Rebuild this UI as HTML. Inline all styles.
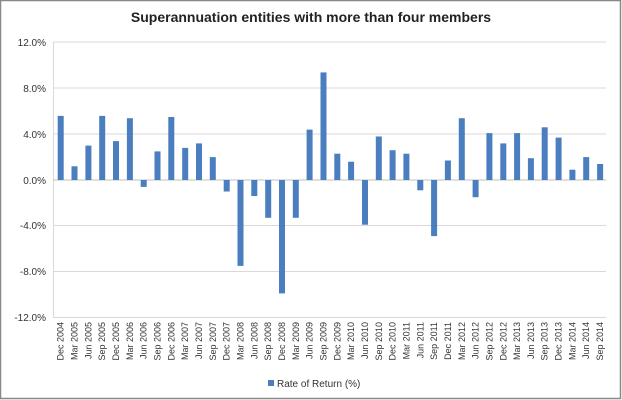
<!DOCTYPE html>
<html><head><meta charset="utf-8"><style>
html,body{margin:0;padding:0;background:#fff;}
svg{display:block;font-family:"Liberation Sans","DejaVu Sans",sans-serif;}
</style></head><body>
<svg width="622" height="400" viewBox="0 0 622 400" xmlns="http://www.w3.org/2000/svg">
<rect x="0.5" y="0.5" width="620" height="398" fill="#fff" stroke="#888" stroke-width="1.5"/>
<text x="311" y="22" text-anchor="middle" font-size="14" font-weight="bold" fill="#222">Superannuation entities with more than four members</text>
<g stroke="#d9d9d9" stroke-width="1">
<line x1="53" y1="42" x2="606" y2="42"/>
<line x1="53" y1="88" x2="606" y2="88"/>
<line x1="53" y1="134" x2="606" y2="134"/>
<line x1="53" y1="225.5" x2="606" y2="225.5"/>
<line x1="53" y1="271.5" x2="606" y2="271.5"/>
<line x1="53" y1="317.5" x2="606" y2="317.5"/>
<line x1="53.5" y1="42" x2="53.5" y2="318"/>
</g>
<line x1="53" y1="180" x2="606" y2="180" stroke="#bfbfbf"/>
<g font-size="10" fill="#333" text-anchor="end">
<text x="46" y="46">12.0%</text>
<text x="46" y="92">8.0%</text>
<text x="46" y="138">4.0%</text>
<text x="46" y="184">0.0%</text>
<text x="46" y="229">-4.0%</text>
<text x="46" y="275">-8.0%</text>
<text x="46" y="321">-12.0%</text>
</g>
<g fill="#4a7ebf">
<rect x="57.7" y="115.9" width="6" height="64.1"/>
<rect x="71.5" y="166.3" width="6" height="13.7"/>
<rect x="85.4" y="145.6" width="6" height="34.4"/>
<rect x="99.2" y="115.9" width="6" height="64.1"/>
<rect x="113.0" y="141.1" width="6" height="38.9"/>
<rect x="126.9" y="118.2" width="6" height="61.8"/>
<rect x="140.7" y="180" width="6" height="6.9"/>
<rect x="154.5" y="151.4" width="6" height="28.6"/>
<rect x="168.3" y="117" width="6" height="63"/>
<rect x="182.2" y="147.9" width="6" height="32.1"/>
<rect x="196.0" y="143.4" width="6" height="36.6"/>
<rect x="209.8" y="157.1" width="6" height="22.9"/>
<rect x="223.7" y="180" width="6" height="11.5"/>
<rect x="237.5" y="180" width="6" height="85.9"/>
<rect x="251.3" y="180" width="6" height="16"/>
<rect x="265.2" y="180" width="6" height="37.8"/>
<rect x="279.0" y="180" width="6" height="113.4"/>
<rect x="292.8" y="180" width="6" height="37.8"/>
<rect x="306.6" y="129.6" width="6" height="50.4"/>
<rect x="320.5" y="72.4" width="6" height="107.6"/>
<rect x="334.3" y="153.7" width="6" height="26.3"/>
<rect x="348.1" y="161.7" width="6" height="18.3"/>
<rect x="362.0" y="180" width="6" height="44.7"/>
<rect x="375.8" y="136.5" width="6" height="43.5"/>
<rect x="389.6" y="150.2" width="6" height="29.8"/>
<rect x="403.4" y="153.7" width="6" height="26.3"/>
<rect x="417.3" y="180" width="6" height="10.3"/>
<rect x="431.1" y="180" width="6" height="56.1"/>
<rect x="444.9" y="160.5" width="6" height="19.5"/>
<rect x="458.8" y="118.2" width="6" height="61.8"/>
<rect x="472.6" y="180" width="6" height="17.2"/>
<rect x="486.4" y="133.1" width="6" height="46.9"/>
<rect x="500.3" y="143.4" width="6" height="36.6"/>
<rect x="514.1" y="133.1" width="6" height="46.9"/>
<rect x="527.9" y="158.2" width="6" height="21.8"/>
<rect x="541.7" y="127.3" width="6" height="52.7"/>
<rect x="555.6" y="137.6" width="6" height="42.4"/>
<rect x="569.4" y="169.7" width="6" height="10.3"/>
<rect x="583.2" y="157.1" width="6" height="22.9"/>
<rect x="597.1" y="164" width="6" height="16"/>
</g>
<g font-size="9" fill="#333" text-anchor="end">
<text transform="translate(63.7,322) rotate(-90)">Dec 2004</text>
<text transform="translate(77.5,322) rotate(-90)">Mar 2005</text>
<text transform="translate(91.4,322) rotate(-90)">Jun 2005</text>
<text transform="translate(105.2,322) rotate(-90)">Sep 2005</text>
<text transform="translate(119.0,322) rotate(-90)">Dec 2005</text>
<text transform="translate(132.9,322) rotate(-90)">Mar 2006</text>
<text transform="translate(146.7,322) rotate(-90)">Jun 2006</text>
<text transform="translate(160.5,322) rotate(-90)">Sep 2006</text>
<text transform="translate(174.3,322) rotate(-90)">Dec 2006</text>
<text transform="translate(188.2,322) rotate(-90)">Mar 2007</text>
<text transform="translate(202.0,322) rotate(-90)">Jun 2007</text>
<text transform="translate(215.8,322) rotate(-90)">Sep 2007</text>
<text transform="translate(229.7,322) rotate(-90)">Dec 2007</text>
<text transform="translate(243.5,322) rotate(-90)">Mar 2008</text>
<text transform="translate(257.3,322) rotate(-90)">Jun 2008</text>
<text transform="translate(271.2,322) rotate(-90)">Sep 2008</text>
<text transform="translate(285.0,322) rotate(-90)">Dec 2008</text>
<text transform="translate(298.8,322) rotate(-90)">Mar 2009</text>
<text transform="translate(312.6,322) rotate(-90)">Jun 2009</text>
<text transform="translate(326.5,322) rotate(-90)">Sep 2009</text>
<text transform="translate(340.3,322) rotate(-90)">Dec 2009</text>
<text transform="translate(354.1,322) rotate(-90)">Mar 2010</text>
<text transform="translate(368.0,322) rotate(-90)">Jun 2010</text>
<text transform="translate(381.8,322) rotate(-90)">Sep 2010</text>
<text transform="translate(395.6,322) rotate(-90)">Dec 2010</text>
<text transform="translate(409.4,322) rotate(-90)">Mar 2011</text>
<text transform="translate(423.3,322) rotate(-90)">Jun 2011</text>
<text transform="translate(437.1,322) rotate(-90)">Sep 2011</text>
<text transform="translate(450.9,322) rotate(-90)">Dec 2011</text>
<text transform="translate(464.8,322) rotate(-90)">Mar 2012</text>
<text transform="translate(478.6,322) rotate(-90)">Jun 2012</text>
<text transform="translate(492.4,322) rotate(-90)">Sep 2012</text>
<text transform="translate(506.3,322) rotate(-90)">Dec 2012</text>
<text transform="translate(520.1,322) rotate(-90)">Mar 2013</text>
<text transform="translate(533.9,322) rotate(-90)">Jun 2013</text>
<text transform="translate(547.7,322) rotate(-90)">Sep 2013</text>
<text transform="translate(561.6,322) rotate(-90)">Dec 2013</text>
<text transform="translate(575.4,322) rotate(-90)">Mar 2014</text>
<text transform="translate(589.2,322) rotate(-90)">Jun 2014</text>
<text transform="translate(603.1,322) rotate(-90)">Sep 2014</text>
</g>
<rect x="268" y="380" width="6" height="6" fill="#4a7ebf"/>
<text x="277" y="387" font-size="10" fill="#333">Rate of Return (%)</text>
</svg>
</body></html>
